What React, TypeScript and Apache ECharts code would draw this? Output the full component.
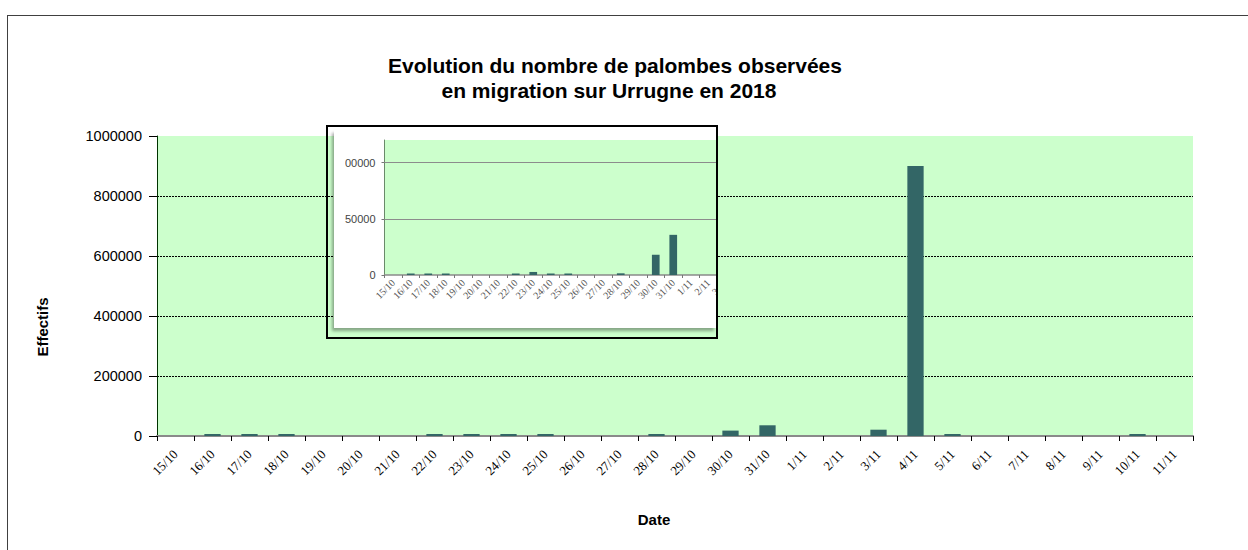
import React, { useEffect, useRef } from "react";
import * as echarts from "echarts";

const categories = [
  "15/10", "16/10", "17/10", "18/10", "19/10", "20/10", "21/10", "22/10",
  "23/10", "24/10", "25/10", "26/10", "27/10", "28/10", "29/10", "30/10",
  "31/10", "1/11", "2/11", "3/11", "4/11", "5/11", "6/11", "7/11",
  "8/11", "9/11", "10/11", "11/11",
];
const effectifs: (number | null)[] = [
  null, 1200, 1000, 1000, null, null, null, 1000,
  2700, 1200, 1200, null, null, 1500, null, 18000,
  35700, null, null, 21000, 900000, 2500, null, null,
  null, null, 2500, null,
];
const titleLines = [
  "Evolution du nombre de palombes observées",
  "en migration sur Urrugne en 2018",
];
const yAxisName = "Effectifs";
const xAxisName = "Date";
const mainYMax = 1000000;
const mainYInterval = 200000;
const insetYMax = 120000;
const insetYInterval = 50000;
const insetGridValues = [50000, 100000];

const BAR = "#336666";
const GREEN = "#CCFFCC";
const plain = (v: number) => String(v);

export default function App() {
  const mainRef = useRef<HTMLDivElement>(null);
  const insetRef = useRef<HTMLDivElement>(null);

  useEffect(() => {
    const main = echarts.init(mainRef.current!, null, { renderer: "svg" });
    const titleStyle = {
      fontFamily: "Liberation Sans",
      fontWeight: "bold",
      fontSize: 21,
      fill: "#000",
      textAlign: "center",
      textVerticalAlign: "middle",
    };
    main.setOption({
      animation: false,
      grid: {
        left: 157,
        right: 55,
        top: 136,
        bottom: 114,
        show: true,
        backgroundColor: GREEN,
        borderWidth: 0,
        outerBoundsMode: "none",
        containLabel: false,
      },
      graphic: [
        { type: "text", x: 615, y: 65, style: { ...titleStyle, text: titleLines[0] } },
        { type: "text", x: 609, y: 90, style: { ...titleStyle, text: titleLines[1] } },
        {
          type: "text",
          x: 42,
          y: 327,
          rotation: Math.PI / 2,
          style: {
            text: yAxisName,
            fontFamily: "Liberation Sans",
            fontWeight: "bold",
            fontSize: 15,
            fill: "#000",
            textAlign: "center",
            textVerticalAlign: "middle",
          },
        },
        {
          type: "text",
          x: 654,
          y: 519,
          style: {
            text: xAxisName,
            fontFamily: "Liberation Sans",
            fontWeight: "bold",
            fontSize: 15,
            fill: "#000",
            textAlign: "center",
            textVerticalAlign: "middle",
          },
        },
      ],
      xAxis: {
        type: "category",
        data: categories,
        boundaryGap: true,
        axisLine: { show: true, lineStyle: { color: "#8a8a8a", width: 2 } },
        axisTick: { show: true, alignWithLabel: false, length: 5, lineStyle: { color: "#000" } },
        axisLabel: {
          interval: 0,
          rotate: 45,
          margin: 16,
          fontFamily: "Liberation Serif",
          fontSize: 13,
          color: "#000",
        },
        splitLine: { show: false },
      },
      yAxis: {
        type: "value",
        min: 0,
        max: mainYMax,
        interval: mainYInterval,
        axisLine: { show: true, lineStyle: { color: "#003300", width: 1 } },
        axisTick: { show: true, length: 8, lineStyle: { color: "#000" } },
        axisLabel: {
          margin: 15,
          fontFamily: "Liberation Sans",
          fontSize: 14.5,
          color: "#000",
          formatter: plain,
        },
        splitLine: {
          show: true,
          showMinLine: false,
          showMaxLine: false,
          lineStyle: { color: "#000", type: [2, 1], width: 1 },
        },
      },
      series: [
        {
          type: "bar",
          data: effectifs,
          barWidth: "44%",
          barMinHeight: 2,
          itemStyle: { color: BAR },
        },
      ],
    });

    const inset = echarts.init(insetRef.current!, null, { renderer: "svg" });
    inset.setOption({
      animation: false,
      grid: {
        left: 39.5,
        right: 70.5,
        top: 10,
        bottom: 53,
        show: true,
        backgroundColor: GREEN,
        borderWidth: 0,
        outerBoundsMode: "none",
        containLabel: false,
      },
      xAxis: {
        type: "category",
        data: categories,
        boundaryGap: true,
        axisLine: { show: true, lineStyle: { color: "#8a8a8a", width: 1.5 } },
        axisTick: { show: true, length: 3, lineStyle: { color: "#777" } },
        axisLabel: {
          interval: 0,
          rotate: 45,
          margin: 6,
          fontFamily: "Liberation Serif",
          fontSize: 10,
          color: "#555",
        },
      },
      yAxis: {
        type: "value",
        min: 0,
        max: insetYMax,
        interval: insetYInterval,
        axisLine: { show: true, lineStyle: { color: "#6a8a6a", width: 1 } },
        axisTick: { show: true, length: 3, lineStyle: { color: "#777" } },
        axisLabel: {
          showMaxLabel: false,
          margin: 9,
          fontFamily: "Liberation Sans",
          fontSize: 11,
          color: "#444",
          formatter: plain,
        },
        splitLine: { show: false },
      },
      series: [
        {
          type: "bar",
          data: effectifs,
          barWidth: "44%",
          barMinHeight: 1.5,
          itemStyle: { color: BAR },
          markLine: {
            silent: true,
            symbol: "none",
            label: { show: false },
            lineStyle: { color: "#8c8c8c", type: "solid", width: 1 },
            data: insetGridValues.map((v) => ({ yAxis: v })),
          },
        },
      ],
    });

    return () => {
      main.dispose();
      inset.dispose();
    };
  }, []);

  return (
    <div
      style={{
        position: "absolute",
        left: 0,
        top: 0,
        width: 1248,
        height: 550,
        overflow: "hidden",
        background: "#fff",
      }}
    >
      <div
        style={{
          position: "absolute",
          left: 7,
          top: 15,
          width: 1400,
          height: 700,
          borderLeft: "1.5px solid #404040",
          borderTop: "1.5px solid #404040",
        }}
      />
      <div
        ref={mainRef}
        style={{ position: "absolute", left: 0, top: 0, width: 1248, height: 550 }}
      />
      <div
        style={{
          position: "absolute",
          left: 334,
          top: 130,
          width: 382,
          height: 198,
          background: "#fff",
          boxShadow: "-2px 3px 3px rgba(0,0,0,0.35)",
        }}
      />
      <div
        style={{
          position: "absolute",
          left: 345,
          top: 130,
          width: 371,
          height: 198,
          overflow: "hidden",
        }}
      >
        <div
          ref={insetRef}
          style={{ position: "absolute", left: 0, top: 0, width: 600, height: 198 }}
        />
      </div>
      <div
        style={{
          position: "absolute",
          left: 326,
          top: 125,
          width: 388,
          height: 210,
          border: "2px solid #000",
          pointerEvents: "none",
        }}
      />
    </div>
  );
}
